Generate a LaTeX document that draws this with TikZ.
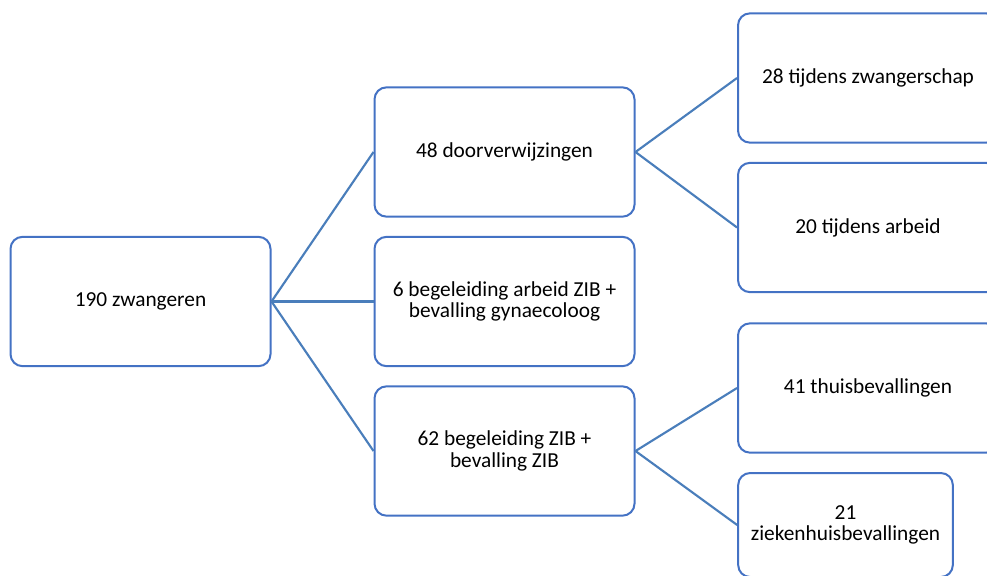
\documentclass[tikz,border=0pt]{standalone}
\usepackage{fontspec}
\setmainfont{Carlito}
\definecolor{boxblue}{HTML}{4472C4}
\definecolor{lineblue}{HTML}{4A7EBB}
\tikzset{
	box/.style={draw=boxblue, line width=1.5pt, rounded corners=9pt, fill=white, align=center,
		font=\fontsize{16}{16}\selectfont, inner sep=0pt, minimum width=195pt, minimum height=97pt},
	link/.style={draw=lineblue, line width=1.6pt},
}
\begin{document}
\begin{tikzpicture}[x=0.75pt, y=-0.75pt]
		\useasboundingbox (0,0) rectangle (987,575);
		\clip (0,0) rectangle (987,575);
		\node[box] (root) at (140.5,301.5) {190 zwangeren};
		\node[box] (ref) at (504.5,152) {48 doorverwijzingen};
		\node[box] (gyn) at (504.5,301.5) {6 begeleiding arbeid ZIB +\\bevalling gynaecoloog};
		\node[box] (zib) at (504.5,451) {62 begeleiding ZIB +\\bevalling ZIB};
		\node[box] (zwang) at (868,78) {28 tijdens zwangerschap};
		\node[box] (arbeid) at (868,227.5) {20 tijdens arbeid};
		\node[box] (thuis) at (868,388) {41 thuisbevallingen};
		\node[box, minimum width=161pt, minimum height=78pt] (zkh) at (845.5,525) {21\\ziekenhuisbevallingen};
		%
		\draw[link] (root.east) -- (ref.west);
		\draw[link] (root.east) -- (gyn.west);
		\draw[link] (root.east) -- (zib.west);
		\draw[link] (ref.east) -- (zwang.west);
		\draw[link] (ref.east) -- (arbeid.west);
		\draw[link] (zib.east) -- (thuis.west);
		\draw[link] (zib.east) -- (zkh.west);
	\end{tikzpicture}
\end{document}
